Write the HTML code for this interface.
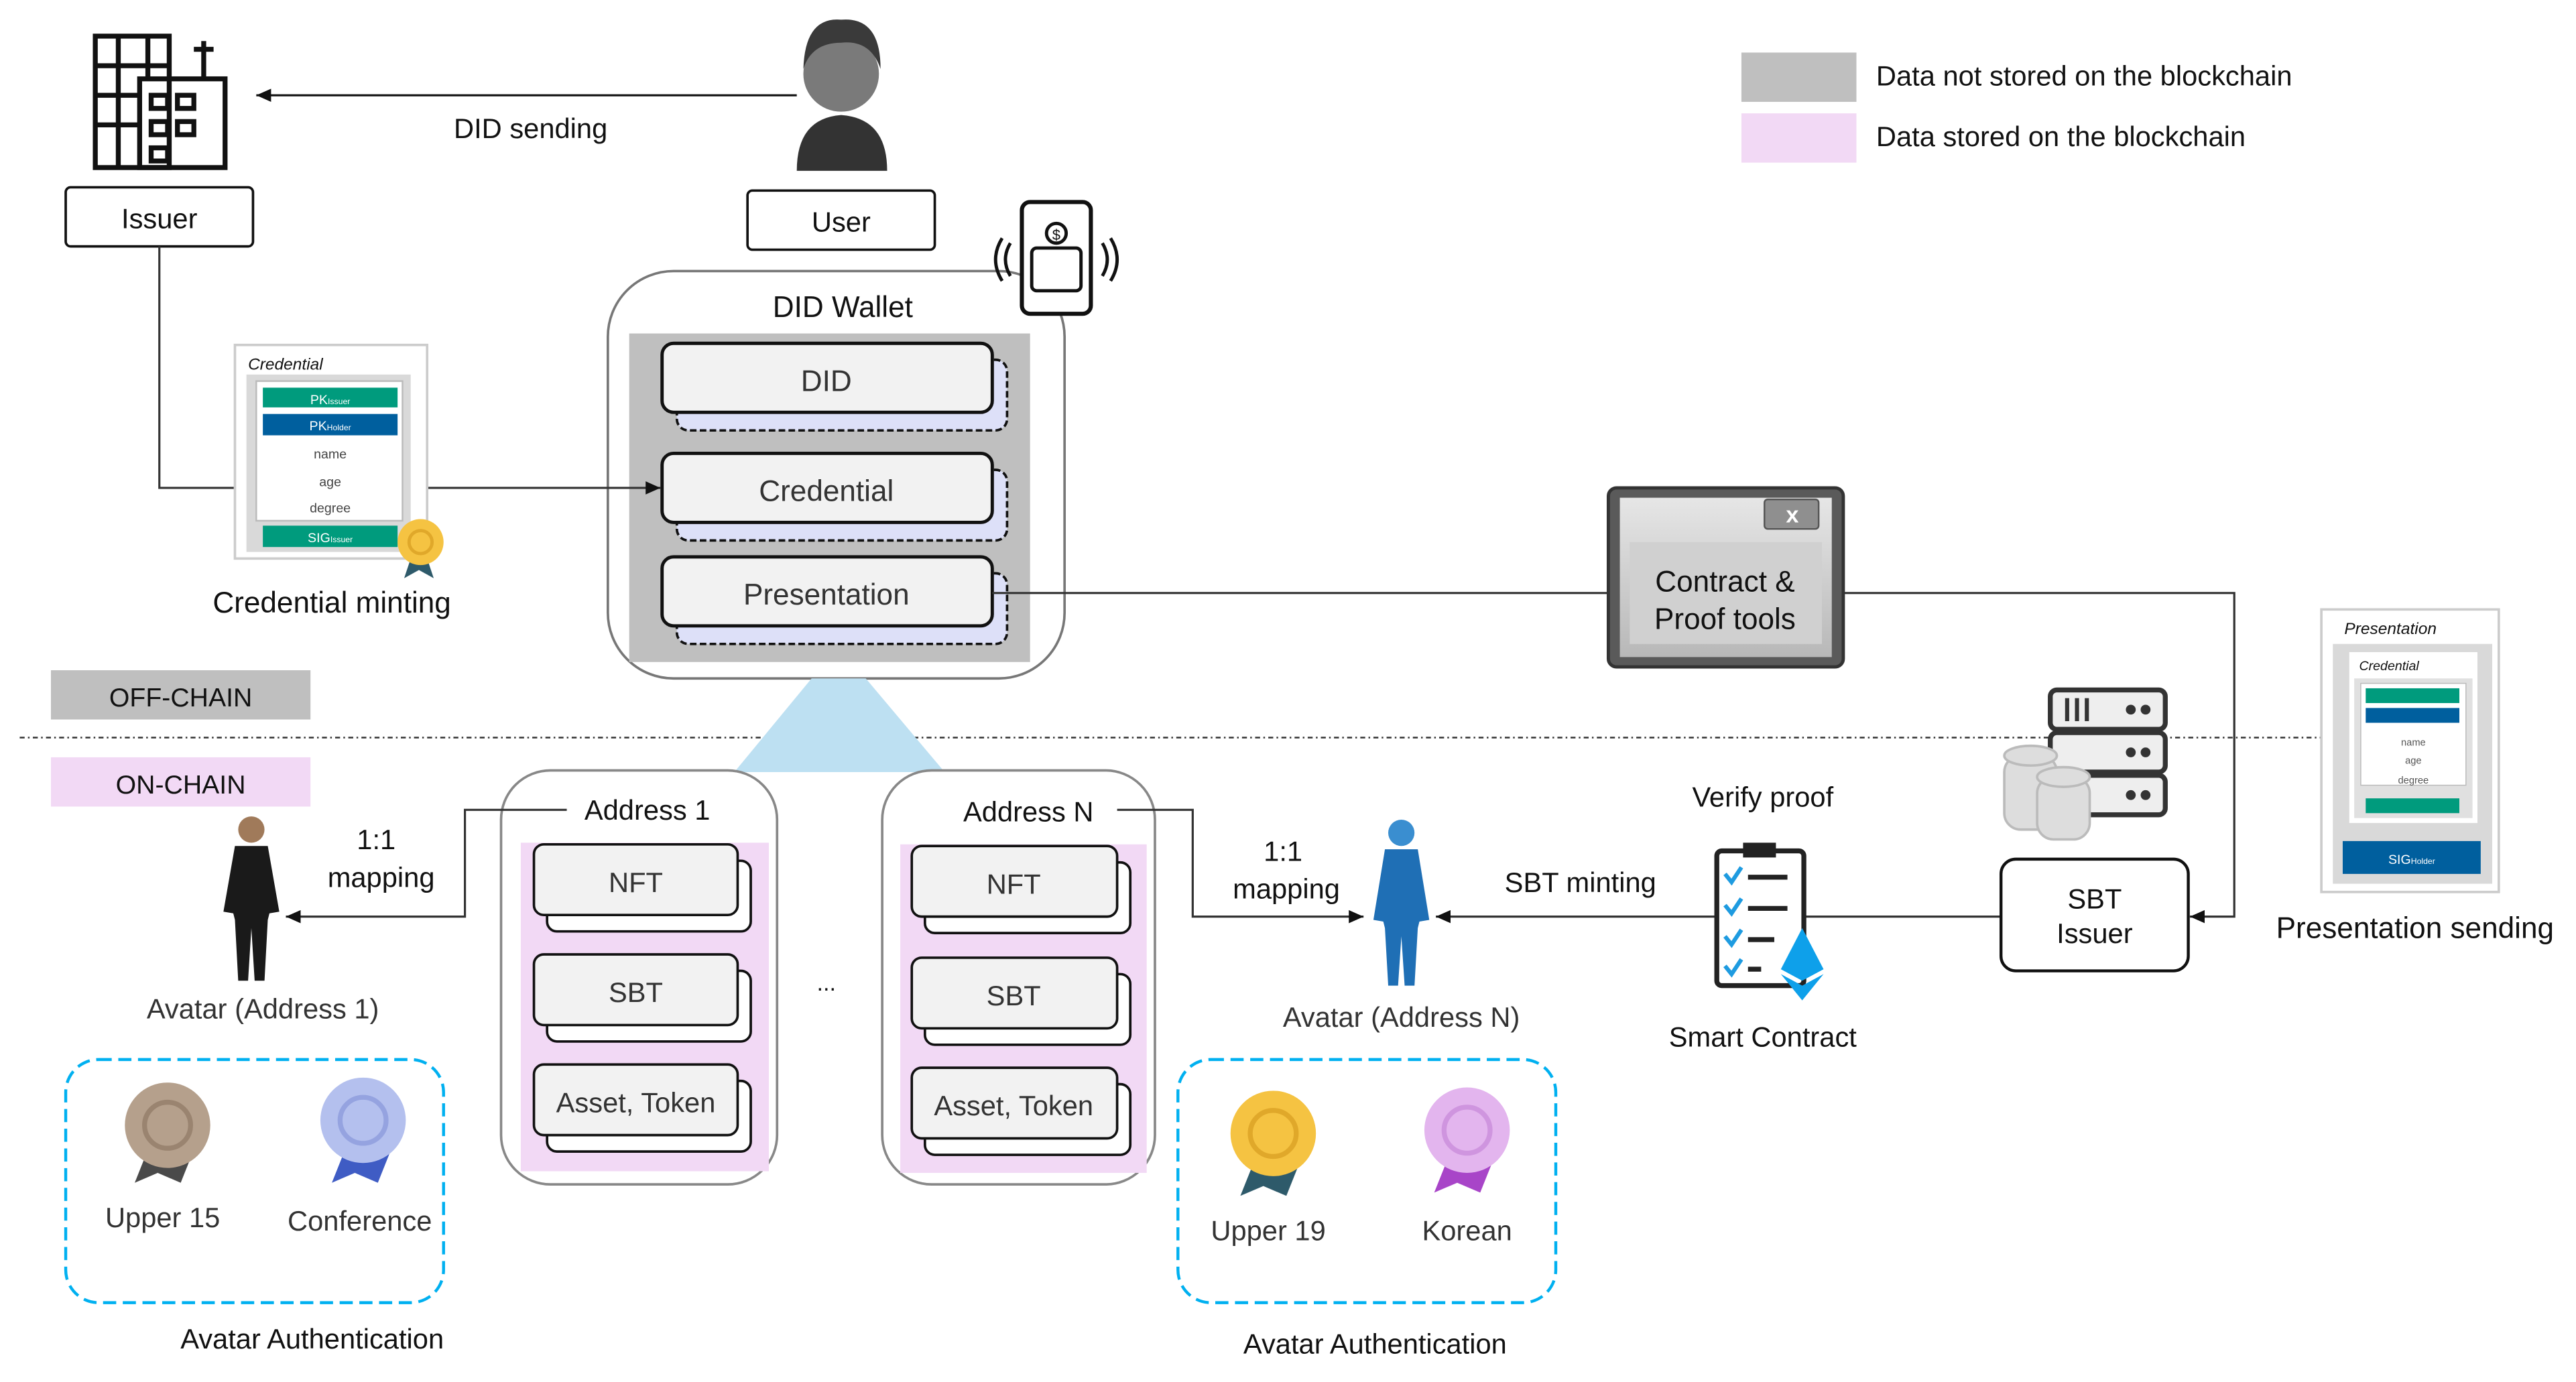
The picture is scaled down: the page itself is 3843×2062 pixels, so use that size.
<!DOCTYPE html>
<html><head><meta charset="utf-8"><style>
html,body{margin:0;padding:0;background:#fff}
svg{display:block}
text{font-family:"Liberation Sans",sans-serif;fill:#111}
</style></head><body>
<svg width="3843" height="2062" viewBox="0 0 1568 841.3" preserveAspectRatio="none" xmlns="http://www.w3.org/2000/svg">
<defs>
<marker id="ar" markerWidth="10" markerHeight="10" refX="9" refY="5" orient="auto" markerUnits="userSpaceOnUse"><path d="M0,1 L9,5 L0,9 z" fill="#111"/></marker>
<linearGradient id="cg" x1="0" y1="0" x2="0" y2="1"><stop offset="0" stop-color="#e6e6e6"/><stop offset="1" stop-color="#b8b8b8"/></linearGradient>
</defs>
<!-- legend -->
<rect x="1060" y="32" width="70" height="30" fill="#bfbfbf"/>
<text x="1142" y="52" font-size="17">Data not stored on the blockchain</text>
<rect x="1060" y="69" width="70" height="30" fill="#f2d9f5"/>
<text x="1142" y="89" font-size="17">Data stored on the blockchain</text>

<!-- issuer building -->
<g fill="none" stroke="#111" stroke-width="3">
<rect x="58" y="22" width="45" height="80"/>
<rect x="85" y="48" width="52" height="54"/>
<line x1="58" y1="40" x2="103" y2="40"/><line x1="58" y1="58" x2="85" y2="58"/><line x1="58" y1="76" x2="85" y2="76"/>
<line x1="72" y1="22" x2="72" y2="102"/><line x1="90" y1="22" x2="90" y2="48"/>
<rect x="92" y="58" width="10" height="8"/><rect x="108" y="58" width="10" height="8"/><rect x="92" y="74" width="10" height="8"/><rect x="108" y="74" width="10" height="8"/><rect x="92" y="90" width="10" height="8"/>
<line x1="124" y1="48" x2="124" y2="25"/><line x1="118" y1="30" x2="130" y2="30"/>
</g>
<rect x="40" y="114" width="114" height="36" rx="3" fill="#fff" stroke="#111" stroke-width="1.5"/>
<text x="97" y="139" font-size="17" text-anchor="middle">Issuer</text>

<!-- user -->
<circle cx="512" cy="45" r="23" fill="#7a7a7a"/>
<path d="M489,42 Q490,10 512,12 Q536,10 536,42 Q530,24 512,26 Q494,26 489,42z" fill="#3a3a3a"/>
<path d="M485,104 Q485,72 512,70 Q540,72 540,104z" fill="#333"/>
<rect x="455" y="116" width="114" height="36" rx="3" fill="#fff" stroke="#111" stroke-width="1.5"/>
<text x="512" y="141" font-size="17" text-anchor="middle">User</text>
<line x1="485" y1="58" x2="156" y2="58" stroke="#111" stroke-width="1.3" marker-end="url(#ar)"/>
<text x="323" y="84" font-size="17" text-anchor="middle">DID sending</text>

<!-- DID Wallet -->
<rect x="370" y="165" width="278" height="248" rx="40" fill="#fff" stroke="#777" stroke-width="1.5"/>
<text x="513" y="193" font-size="18" text-anchor="middle">DID Wallet</text>
<rect x="383" y="203" width="244" height="200" fill="#bfbfbf"/>
<g stroke-width="1.5">
<rect x="412" y="219" width="201" height="43" rx="7" fill="#dde0f8" stroke="#111" stroke-dasharray="4,2"/>
<rect x="403" y="209" width="201" height="42" rx="7" fill="#f2f2f2" stroke="#111" stroke-width="2"/>
<rect x="412" y="286" width="201" height="43" rx="7" fill="#dde0f8" stroke="#111" stroke-dasharray="4,2"/>
<rect x="403" y="276" width="201" height="42" rx="7" fill="#f2f2f2" stroke="#111" stroke-width="2"/>
<rect x="412" y="349" width="201" height="43" rx="7" fill="#dde0f8" stroke="#111" stroke-dasharray="4,2"/>
<rect x="403" y="339" width="201" height="42" rx="7" fill="#f2f2f2" stroke="#111" stroke-width="2"/>
</g>
<text x="503" y="238" font-size="18" text-anchor="middle" style="fill:#333">DID</text>
<text x="503" y="305" font-size="18" text-anchor="middle" style="fill:#333">Credential</text>
<text x="503" y="368" font-size="18" text-anchor="middle" style="fill:#333">Presentation</text>

<!-- credential -->
<polyline points="97,150 97,297 143,297" fill="none" stroke="#333" stroke-width="1.3"/>
<line x1="260" y1="297" x2="402" y2="297" stroke="#333" stroke-width="1.3" marker-end="url(#ar)"/>
<rect x="143" y="210" width="117" height="130" fill="#fff" stroke="#ccc" stroke-width="1.5"/>
<text x="151" y="225" font-size="10" font-style="italic">Credential</text>
<rect x="150" y="228" width="100" height="108" fill="#d9d9d9"/>
<rect x="156" y="232" width="89" height="85" fill="#fff" stroke="#bbb"/>
<rect x="160" y="236" width="82" height="12" fill="#009b7d"/><text x="201" y="246" font-size="8" text-anchor="middle" style="fill:#fff">PK<tspan font-size="5">Issuer</tspan></text>
<rect x="160" y="252" width="82" height="13" fill="#005f9e"/><text x="201" y="262" font-size="8" text-anchor="middle" style="fill:#fff">PK<tspan font-size="5">Holder</tspan></text>
<text x="201" y="279" font-size="8" text-anchor="middle" style="fill:#444">name</text>
<text x="201" y="296" font-size="8" text-anchor="middle" style="fill:#444">age</text>
<text x="201" y="312" font-size="8" text-anchor="middle" style="fill:#444">degree</text>
<rect x="160" y="320" width="82" height="13" fill="#009b7d"/><text x="201" y="330" font-size="8" text-anchor="middle" style="fill:#fff">SIG<tspan font-size="5">Issuer</tspan></text>
<path d="M250,340 L246,352 L255,347 L264,352 L260,340z" fill="#2e5a6a"/>
<circle cx="256" cy="330" r="14" fill="#f5c342"/><circle cx="256" cy="330" r="7" fill="none" stroke="#e0a82a" stroke-width="2"/>
<text x="202" y="373" font-size="18" text-anchor="middle">Credential minting</text>

<!-- phone -->
<rect x="622" y="123" width="42" height="68" rx="5" fill="#fff" stroke="#111" stroke-width="2.5"/>
<rect x="628" y="151" width="30" height="26" rx="3" fill="none" stroke="#111" stroke-width="2"/>
<circle cx="643" cy="142" r="6" fill="none" stroke="#111" stroke-width="2"/>
<text x="643" y="146" font-size="9" text-anchor="middle">$</text>
<path d="M615,148 Q609,158 615,168 M610,145 Q602,158 610,171 M671,148 Q677,158 671,168 M676,145 Q684,158 676,171" fill="none" stroke="#111" stroke-width="2"/>

<!-- presentation line -->
<polyline points="604,361 980,361" fill="none" stroke="#333" stroke-width="1.3"/>
<polyline points="1121,361 1360,361 1360,558 1333,558" fill="none" stroke="#333" stroke-width="1.3" marker-end="url(#ar)"/>
<!-- contract tools -->
<rect x="979" y="297" width="143" height="109" rx="5" fill="#5a5a5a" stroke="#333" stroke-width="2"/>
<rect x="986" y="303" width="129" height="97" fill="url(#cg)"/>
<rect x="1074" y="304" width="33" height="18" rx="2" fill="#8f8f8f" stroke="#555"/>
<text x="1091" y="318" font-size="14" font-weight="bold" text-anchor="middle" style="fill:#fff">x</text>
<rect x="992" y="330" width="117" height="62" fill="#d0d0d0"/>
<text x="1050" y="360" font-size="18" text-anchor="middle">Contract &amp;</text>
<text x="1050" y="383" font-size="18" text-anchor="middle">Proof tools</text>

<!-- chain labels -->
<rect x="31" y="408" width="158" height="30" fill="#bfbfbf"/>
<text x="110" y="430" font-size="16" text-anchor="middle">OFF-CHAIN</text>
<line x1="12" y1="449" x2="1415" y2="449" stroke="#333" stroke-width="1" stroke-dasharray="3,2,1,2"/>
<rect x="31" y="461" width="158" height="30" fill="#f2d9f5"/>
<text x="110" y="483" font-size="16" text-anchor="middle">ON-CHAIN</text>

<!-- blue triangle -->
<polygon points="494,413 527,413 575,470 447,470" fill="#bde0f2"/>

<!-- address 1 -->
<rect x="305" y="469" width="168" height="252" rx="30" fill="#fff" stroke="#888" stroke-width="1.5"/>
<rect x="317" y="513" width="151" height="200" fill="#f2d9f5"/>
<rect x="345" y="482" width="100" height="22" fill="#fff"/>
<text x="394" y="499" font-size="17" text-anchor="middle">Address 1</text>
<g stroke="#111" stroke-width="1.5">
<rect x="333" y="524" width="124" height="43" rx="6" fill="#fff"/><rect x="325" y="514" width="124" height="43" rx="6" fill="#f2f2f2"/>
<rect x="333" y="591" width="124" height="43" rx="6" fill="#fff"/><rect x="325" y="581" width="124" height="43" rx="6" fill="#f2f2f2"/>
<rect x="333" y="658" width="124" height="43" rx="6" fill="#fff"/><rect x="325" y="648" width="124" height="43" rx="6" fill="#f2f2f2"/>
</g>
<text x="387" y="543" font-size="17" text-anchor="middle" style="fill:#333">NFT</text>
<text x="387" y="610" font-size="17" text-anchor="middle" style="fill:#333">SBT</text>
<text x="387" y="677" font-size="17" text-anchor="middle" style="fill:#333">Asset, Token</text>

<!-- address N -->
<rect x="537" y="469" width="166" height="252" rx="30" fill="#fff" stroke="#888" stroke-width="1.5"/>
<rect x="548" y="514" width="150" height="200" fill="#f2d9f5"/>
<rect x="575" y="482" width="105" height="22" fill="#fff"/>
<text x="626" y="500" font-size="17" text-anchor="middle">Address N</text>
<g stroke="#111" stroke-width="1.5">
<rect x="563" y="525" width="125" height="43" rx="6" fill="#fff"/><rect x="555" y="515" width="125" height="43" rx="6" fill="#f2f2f2"/>
<rect x="563" y="593" width="125" height="43" rx="6" fill="#fff"/><rect x="555" y="583" width="125" height="43" rx="6" fill="#f2f2f2"/>
<rect x="563" y="660" width="125" height="43" rx="6" fill="#fff"/><rect x="555" y="650" width="125" height="43" rx="6" fill="#f2f2f2"/>
</g>
<text x="617" y="544" font-size="17" text-anchor="middle" style="fill:#333">NFT</text>
<text x="617" y="612" font-size="17" text-anchor="middle" style="fill:#333">SBT</text>
<text x="617" y="679" font-size="17" text-anchor="middle" style="fill:#333">Asset, Token</text>
<text x="503" y="603" font-size="14" text-anchor="middle">...</text>

<!-- mappings -->
<polyline points="345,493 283,493 283,558 174,558" fill="none" stroke="#333" stroke-width="1.3" marker-end="url(#ar)"/>
<text x="229" y="517" font-size="17" text-anchor="middle">1:1</text>
<text x="232" y="540" font-size="17" text-anchor="middle">mapping</text>
<polyline points="680,493 726,493 726,558 830,558" fill="none" stroke="#333" stroke-width="1.3" marker-end="url(#ar)"/>
<text x="781" y="524" font-size="17" text-anchor="middle">1:1</text>
<text x="783" y="547" font-size="17" text-anchor="middle">mapping</text>

<!-- avatar 1 -->
<circle cx="153" cy="505" r="8" fill="#a07a5a"/>
<path d="M143,515 L163,515 L170,555 L164,556 L163,560 L161,597 L155,597 L153,565 L151,597 L145,597 L143,560 L142,556 L136,555z" fill="#1a1a1a"/>
<text x="160" y="620" font-size="17" text-anchor="middle" style="fill:#333">Avatar (Address 1)</text>
<!-- avatar N -->
<circle cx="853" cy="507" r="8" fill="#3a8ed0"/>
<path d="M843,517 L863,517 L870,560 L864,561 L863,565 L861,600 L855,600 L853,570 L851,600 L845,600 L843,565 L842,561 L836,560z" fill="#1f6fb5"/>
<text x="853" y="625" font-size="17" text-anchor="middle" style="fill:#333">Avatar (Address N)</text>

<!-- SBT minting -->
<line x1="1218" y1="558" x2="874" y2="558" stroke="#333" stroke-width="1.3" marker-end="url(#ar)"/>
<text x="962" y="543" font-size="17" text-anchor="middle">SBT minting</text>
<text x="1073" y="491" font-size="17" text-anchor="middle">Verify proof</text>
<rect x="1045" y="518" width="53" height="82" rx="3" fill="#fff" stroke="#222" stroke-width="3"/>
<rect x="1061" y="513" width="20" height="9" fill="#222"/>
<g stroke="#1e9be0" stroke-width="2.5" fill="none"><path d="M1050,532 l4,5 l6,-9 M1050,551 l4,5 l6,-9 M1050,570 l4,5 l6,-9 M1050,588 l4,5 l6,-9"/></g>
<g stroke="#222" stroke-width="3"><line x1="1064" y1="534" x2="1088" y2="534"/><line x1="1064" y1="553" x2="1088" y2="553"/><line x1="1064" y1="572" x2="1080" y2="572"/><line x1="1064" y1="590" x2="1072" y2="590"/></g>
<polygon points="1097,565 1110,590 1097,597 1084,590" fill="#0ea0ea"/>
<polygon points="1084,593 1097,600 1110,593 1097,609" fill="#0ea0ea"/>
<text x="1073" y="637" font-size="17" text-anchor="middle">Smart Contract</text>

<!-- servers -->
<g stroke="#333" stroke-width="3" fill="#eee">
<rect x="1248" y="420" width="70" height="24" rx="4"/><rect x="1248" y="446" width="70" height="24" rx="4"/><rect x="1248" y="472" width="70" height="24" rx="4"/>
</g>
<g fill="#333"><circle cx="1297" cy="432" r="3"/><circle cx="1306" cy="432" r="3"/><circle cx="1297" cy="458" r="3"/><circle cx="1306" cy="458" r="3"/><circle cx="1297" cy="484" r="3"/><circle cx="1306" cy="484" r="3"/>
<rect x="1257" y="425" width="2.5" height="14"/><rect x="1263" y="425" width="2.5" height="14"/><rect x="1269" y="425" width="2.5" height="14"/></g>
<g fill="#ddd" stroke="#bbb" stroke-width="1.5">
<rect x="1220" y="460" width="32" height="45" rx="10"/><ellipse cx="1236" cy="460" rx="16" ry="6"/>
<rect x="1240" y="473" width="32" height="38" rx="10"/><ellipse cx="1256" cy="473" rx="16" ry="6"/>
</g>
<rect x="1218" y="523" width="114" height="68" rx="9" fill="#fff" stroke="#111" stroke-width="1.8"/>
<text x="1275" y="553" font-size="17" text-anchor="middle">SBT</text>
<text x="1275" y="574" font-size="17" text-anchor="middle">Issuer</text>

<!-- presentation card -->
<rect x="1413" y="371" width="108" height="172" fill="#fff" stroke="#ccc" stroke-width="1.5"/>
<text x="1427" y="386" font-size="10" font-style="italic">Presentation</text>
<rect x="1420" y="392" width="97" height="146" fill="#d9d9d9"/>
<rect x="1430" y="397" width="78" height="104" fill="#fff"/>
<text x="1436" y="408" font-size="8" font-style="italic">Credential</text>
<rect x="1433" y="413" width="72" height="85" fill="#e0e0e0"/>
<rect x="1437" y="416" width="64" height="62" fill="#fff" stroke="#bbb" stroke-width=".6"/>
<rect x="1440" y="419" width="57" height="9" fill="#009b7d"/>
<rect x="1440" y="431" width="57" height="9" fill="#005f9e"/>
<text x="1469" y="454" font-size="6" text-anchor="middle" style="fill:#555">name</text>
<text x="1469" y="465" font-size="6" text-anchor="middle" style="fill:#555">age</text>
<text x="1469" y="477" font-size="6" text-anchor="middle" style="fill:#555">degree</text>
<rect x="1440" y="486" width="57" height="9" fill="#009b7d"/>
<rect x="1426" y="512" width="84" height="20" fill="#005f9e"/>
<text x="1468" y="526" font-size="8" text-anchor="middle" style="fill:#fff">SIG<tspan font-size="5">Holder</tspan></text>
<text x="1470" y="571" font-size="18" text-anchor="middle">Presentation sending</text>

<!-- avatar auth 1 -->
<rect x="40" y="645" width="230" height="148" rx="20" fill="none" stroke="#00b0f0" stroke-width="1.8" stroke-dasharray="8,4"/>
<path d="M90,700 L82,720 L96,714 L110,720 L118,700z" fill="#4a4a4a"/>
<circle cx="102" cy="685" r="26" fill="#b5a08c"/><circle cx="102" cy="685" r="14" fill="none" stroke="#9a8470" stroke-width="3"/>
<path d="M210,700 L202,720 L216,714 L230,720 L238,700z" fill="#3f5cc4"/>
<circle cx="221" cy="682" r="26" fill="#b4c0ee"/><circle cx="221" cy="682" r="14" fill="none" stroke="#95a3e0" stroke-width="3"/>
<text x="99" y="747" font-size="17" text-anchor="middle" style="fill:#333">Upper 15</text>
<text x="219" y="749" font-size="17" text-anchor="middle" style="fill:#333">Conference</text>
<text x="190" y="821" font-size="17" text-anchor="middle">Avatar Authentication</text>
<!-- avatar auth N -->
<rect x="717" y="645" width="230" height="148" rx="20" fill="none" stroke="#00b0f0" stroke-width="1.8" stroke-dasharray="8,4"/>
<path d="M763,708 L755,728 L769,722 L783,728 L791,708z" fill="#2e5a6a"/>
<circle cx="775" cy="690" r="26" fill="#f5c342"/><circle cx="775" cy="690" r="14" fill="none" stroke="#e0a82a" stroke-width="3"/>
<path d="M881,706 L873,726 L887,720 L901,726 L909,706z" fill="#a845c8"/>
<circle cx="893" cy="688" r="26" fill="#e3b5ee"/><circle cx="893" cy="688" r="14" fill="none" stroke="#cf95df" stroke-width="3"/>
<text x="772" y="755" font-size="17" text-anchor="middle" style="fill:#333">Upper 19</text>
<text x="893" y="755" font-size="17" text-anchor="middle" style="fill:#333">Korean</text>
<text x="837" y="824" font-size="17" text-anchor="middle">Avatar Authentication</text>
</svg>
</body></html>
